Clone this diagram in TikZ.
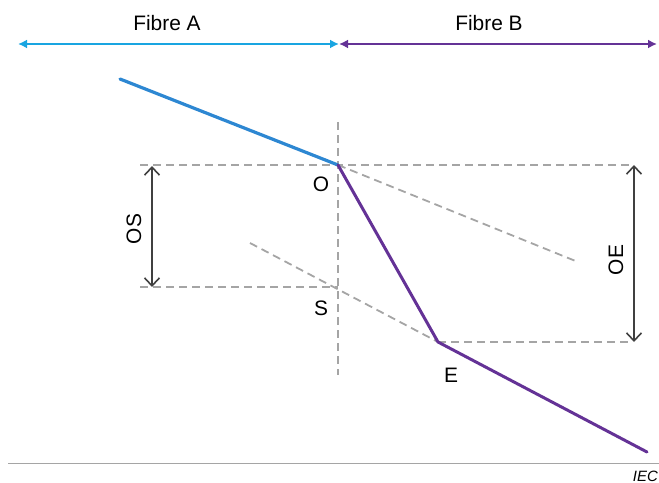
\documentclass[tikz,border=0pt]{standalone}
\usepackage{fontspec}
\setmainfont{Liberation Sans}
\usepackage{xcolor}
\usepackage{tikz}
\usetikzlibrary{calc, positioning, arrows.meta}

\definecolor{fibreA}{RGB}{25,165,225}
\definecolor{coreA}{RGB}{45,135,210}
\definecolor{fibreB}{RGB}{100,50,150}
\definecolor{guide}{RGB}{165,165,165}

\begin{document}
\begin{tikzpicture}[>={Latex[length=9bp, width=9bp]}, x=1bp, y=-1bp, font=\fontsize{21}{25}\selectfont,
    guideline/.style={guide, line width=1.8bp, dash pattern=on 8bp off 5bp},
    gap/.style={{Straight Barb[length=8bp, width=15bp]}-{Straight Barb[length=8bp, width=15bp]}, black!75, line width=1.6bp}]
    \useasboundingbox (0,0) rectangle (659,483);
    
    % Các điểm
    \coordinate (O) at (338,165);
    \coordinate (S) at (338,287);
    \coordinate (E) at (438,342);
    \coordinate (Astart) at (120,79);
    \coordinate (Bend) at (647,452);
    
    % Mũi tên sợi quang
    \coordinate (A1) at (18,44);
    \coordinate (M) at (339,44);
    \coordinate (B1) at (657,44);
    \draw[<->, fibreA, line width=2bp] (A1) -- (M);
    \draw[<->, fibreB, line width=2bp] (M) -- (B1);
    \node[anchor=base] (fa) at (167,31) {Fibre A};
    \node[anchor=base] (fb) at (489,31) {Fibre B};
    
    % Đường nét đứt
    \draw[guideline] (338,122) -- (338,375);
    \draw[guideline] (140,165) -- (632,165);
    \draw[guideline] (140,287) -- (S);
    \draw[guideline] (E) -- (632,342);
    \draw[guideline] (O) -- (578,262);
    \draw[guideline] (250,243) -- (E);
    
    % Sợi A và sợi B
    \draw[coreA, line width=3.2bp, line cap=round] (Astart) -- (O);
    \draw[fibreB, line width=3bp, line join=round, line cap=round] (O) -- (E) -- (Bend);
    
    % Khoảng cách OS, OE
    \draw[gap] (152,166) -- (152,287);
    \draw[gap] (634,165) -- (634,342);
    \node[rotate=90] (os) at (134,229) {OS};
    \node[rotate=90] (oe) at (616,260) {OE};
    
    % Nhãn
    \node[anchor=base] (lo) at (321,192) {O};
    \node[anchor=base] (ls) at (321,315) {S};
    \node[anchor=base] (le) at (451,382) {E};
    
    % Đường kẻ dưới
    \draw[guide, line width=0.8bp] (8,463) -- (659,463);
    \node[anchor=base east, inner xsep=1bp, font=\fontsize{15}{18}\selectfont\itshape] (iec) at (659,481) {IEC};
\end{tikzpicture}
\end{document}
